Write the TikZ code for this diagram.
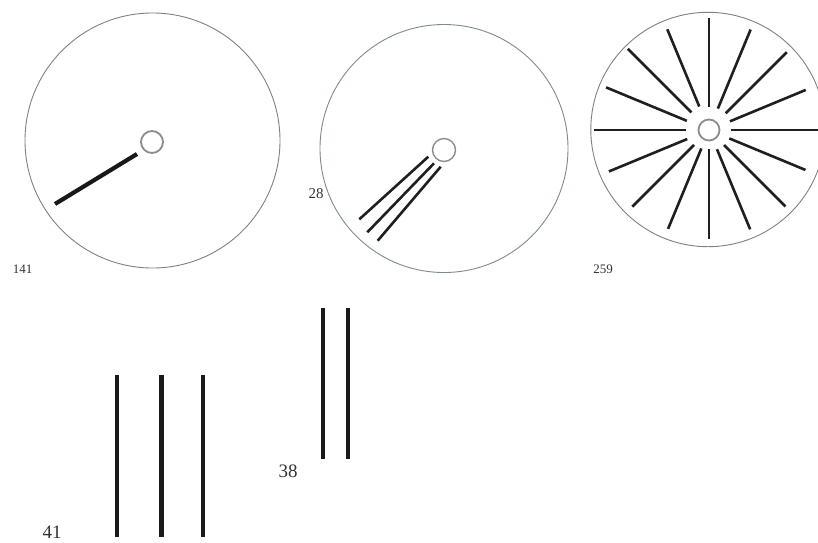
\documentclass[tikz,border=0pt]{standalone}
\usepackage{fontspec}
\setmainfont{Liberation Serif}
\usetikzlibrary{calc}
\definecolor{greengray}{RGB}{125,140,132}
\begin{document}
\begin{tikzpicture}[x=1pt,y=-1pt,
  disc/.style={draw=black!50,line width=0.9pt},
  hub/.style={draw=black!45,line width=1.8pt},
  bar/.style={draw=black!90,line width=4.2pt},
  spoke/.style={draw=black!88,line width=2.6pt},
  lab/.style={text=black!80,inner sep=0pt}]
\useasboundingbox (0,0) rectangle (818,542);
\clip (0,0) rectangle (818,542);
% disc 1
\draw[disc] (152.5,140.5) circle (127.5);
\draw[hub] (152,142) circle (11);
\coordinate (a1) at (137,154);
\coordinate (a2) at (55,204);
\draw[bar] (a1) -- (a2);
\node[lab,font=\fontsize{13}{13}\selectfont] (l141) at (22.7,269.5) {141};
% disc 2
\draw[disc,draw=greengray] (444,148.5) circle (124);
\draw[hub,line width=1.4pt] (444,150) circle (11.5);
\coordinate (b1s) at (428.3,156.7); \coordinate (b1e) at (359.3,219.3);
\coordinate (b2s) at (434,163.3);   \coordinate (b2e) at (367.3,232.3);
\coordinate (b3s) at (440.7,166.7); \coordinate (b3e) at (377.7,240.7);
\draw[spoke] (b1s) -- (b1e);
\draw[spoke] (b2s) -- (b2e);
\draw[spoke] (b3s) -- (b3e);
\node[lab,font=\fontsize{15}{15}\selectfont] (l28) at (316,194) {28};
% disc 3
\draw[disc] (708,129.5) circle (117.2);
\draw[hub] (709,130) circle (10.5);
\coordinate (c3) at (709,130);
\foreach \ang/\rin/\rout in {90/23.3/111.7, 112.5/25.4/109, 135/24.8/114.8,
  157.5/24/111.4, 180/23.3/115, 202.5/23.6/108.3, 225/21.2/108.5,
  247.5/20/107, 270/19/109, 292.5/20.8/107.5, 315/21.2/108, 337.5/22/104.4,
  0/21.7/112, 22.5/22.7/104.7, 45/23.6/110, 67.5/23.2/108.7}
  \draw[spoke] ($(c3)+({-\ang}:\rin)$) -- ($(c3)+({-\ang}:\rout)$);
\node[lab,font=\fontsize{13}{13}\selectfont] (l259) at (603,269) {259};
% three bars
\foreach \xx [count=\i] in {116.7,161.3,202.7}{
  \coordinate (t\i) at (\xx,375);
  \coordinate (u\i) at (\xx,537);
  \draw[bar,line width=4.4pt] (t\i) -- (u\i);
}
\node[lab,font=\fontsize{19}{19}\selectfont] (l41) at (52,532) {41};
% two bars
\foreach \xx [count=\i] in {322.7,347.7}{
  \coordinate (p\i) at (\xx,308.3);
  \coordinate (q\i) at (\xx,459.3);
  \draw[bar,line width=4pt] (p\i) -- (q\i);
}
\node[lab,font=\fontsize{19}{19}\selectfont] (l38) at (288,471) {38};
\end{tikzpicture}
\end{document}
